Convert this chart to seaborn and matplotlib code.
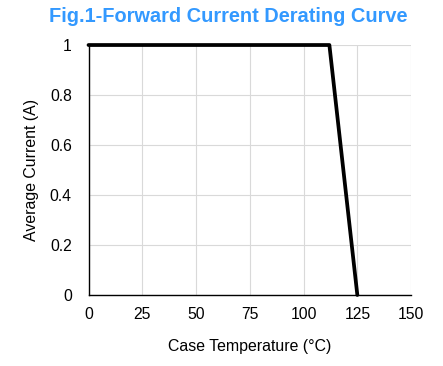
import matplotlib
matplotlib.use("Agg")
import matplotlib.pyplot as plt
import seaborn as sns
import pandas as pd

# derating curve points
case_temp = [0, 112, 125]
avg_current = [1, 1, 0]

x_ticks = [0, 25, 50, 75, 100, 125, 150]
y_ticks = [0, 0.2, 0.4, 0.6, 0.8, 1]
y_labels = ["0", "0.2", "0.4", "0.6", "0.8", "1"]

sns.set_theme(style="whitegrid")
plt.rcParams['font.family'] = ['Liberation Sans', 'DejaVu Sans']

df = pd.DataFrame({"temp": case_temp, "current": avg_current})

fig = plt.figure(figsize=(4.43, 3.66), dpi=100)
ax = fig.add_axes([0.1998, 0.194, 0.7282, 0.683])

sns.lineplot(data=df, x="temp", y="current", color="black", linewidth=2.7,
             ax=ax, clip_on=False, zorder=5)

ax.set_xlim(0, 150)
ax.set_ylim(0, 1)
ax.set_xticks(x_ticks)
ax.set_yticks(y_ticks)
ax.set_yticklabels(y_labels)
ax.grid(True, color="#d9d9d9", linewidth=0.8)
ax.tick_params(axis="both", length=0, labelsize=11.3, colors="black")
ax.tick_params(axis="x", pad=9)
ax.tick_params(axis="y", pad=12)

for side in ["top", "right"]:
    ax.spines[side].set_visible(False)
for side in ["left", "bottom"]:
    ax.spines[side].set_color("black")
    ax.spines[side].set_linewidth(1.0)

ax.set_xlabel("Case Temperature (°C)", fontsize=11.4, color="black", labelpad=12)
ax.set_ylabel("Average Current (A)", fontsize=11.4, color="black", labelpad=8)

fig.text(0.516, 0.955, "Fig.1-Forward Current Derating Curve", ha="center", va="center",
         fontsize=14.4, fontweight="bold", color="#3399ff")

fig.savefig("out.png", dpi=100)
